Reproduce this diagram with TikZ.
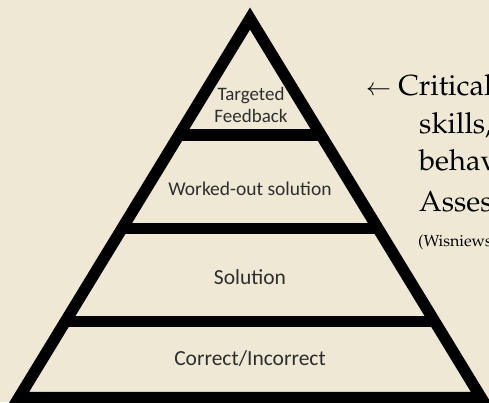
\documentclass[tikz,border=0pt]{standalone}
\usepackage[T1]{fontenc}
\usepackage{fontspec}
\usetikzlibrary{calc}

\newfontfamily\levelfont{Carlito}
\newcommand\notefont{\fontencoding{T1}\fontfamily{ppl}\selectfont}
\definecolor{paper}{HTML}{EEE8D5}

\begin{document}
\begin{tikzpicture}[x=1pt, y=1pt,
        tier/.style={line width=11.5pt, line join=miter},
        level/.style={text=black!82, inner sep=0pt, anchor=base},
        note/.style={font=\notefont\fontsize{29}{35}\selectfont, inner sep=0pt, anchor=base west}]
        \fill[paper] (0, 0) rectangle (489, 402);
        \clip (0, 0) rectangle (489, 402);

        \coordinate (top) at (250, 383.4);
        \coordinate (left) at (19, 4.5);
        \coordinate (right) at (481, 4.5);

        \draw[tier] (top) -- (left) -- (right) -- cycle;
        \draw[tier] ($(top)!0.307!(left)$) -- ($(top)!0.307!(right)$);
        \draw[tier] ($(top)!0.554!(left)$) -- ($(top)!0.554!(right)$);
        \draw[tier] ($(top)!0.800!(left)$) -- ($(top)!0.800!(right)$);

        \node (targeted) at (251, 301.3) [level, font=\levelfont\fontsize{19}{23}\selectfont] {Targeted};
        \node (feedback) at (251, 279.7) [level, font=\levelfont\fontsize{19}{23}\selectfont] {Feedback};
        \node (worked) at (250, 207) [level, font=\levelfont\fontsize{19.5}{24}\selectfont] {Worked-out solution};
        \node (solution) at (250, 118) [level, font=\levelfont\fontsize{21.5}{26}\selectfont] {Solution};
        \node (correct) at (250, 36.3) [level, font=\levelfont\fontsize{21.5}{26}\selectfont] {Correct/Incorrect};

        \node (critical) at (366, 306.3) [note] {$\leftarrow$ Critical};
        \node (skills) at (419, 268.7) [note] {skills,};
        \node (behav) at (419, 231.3) [note] {behav};
        \node (asses) at (419, 191) [note] {Asses};
        \node (cite) at (418, 155.3) [note, font=\notefont\fontsize{16}{19}\selectfont] {(Wisniews};
    \end{tikzpicture}
\end{document}
